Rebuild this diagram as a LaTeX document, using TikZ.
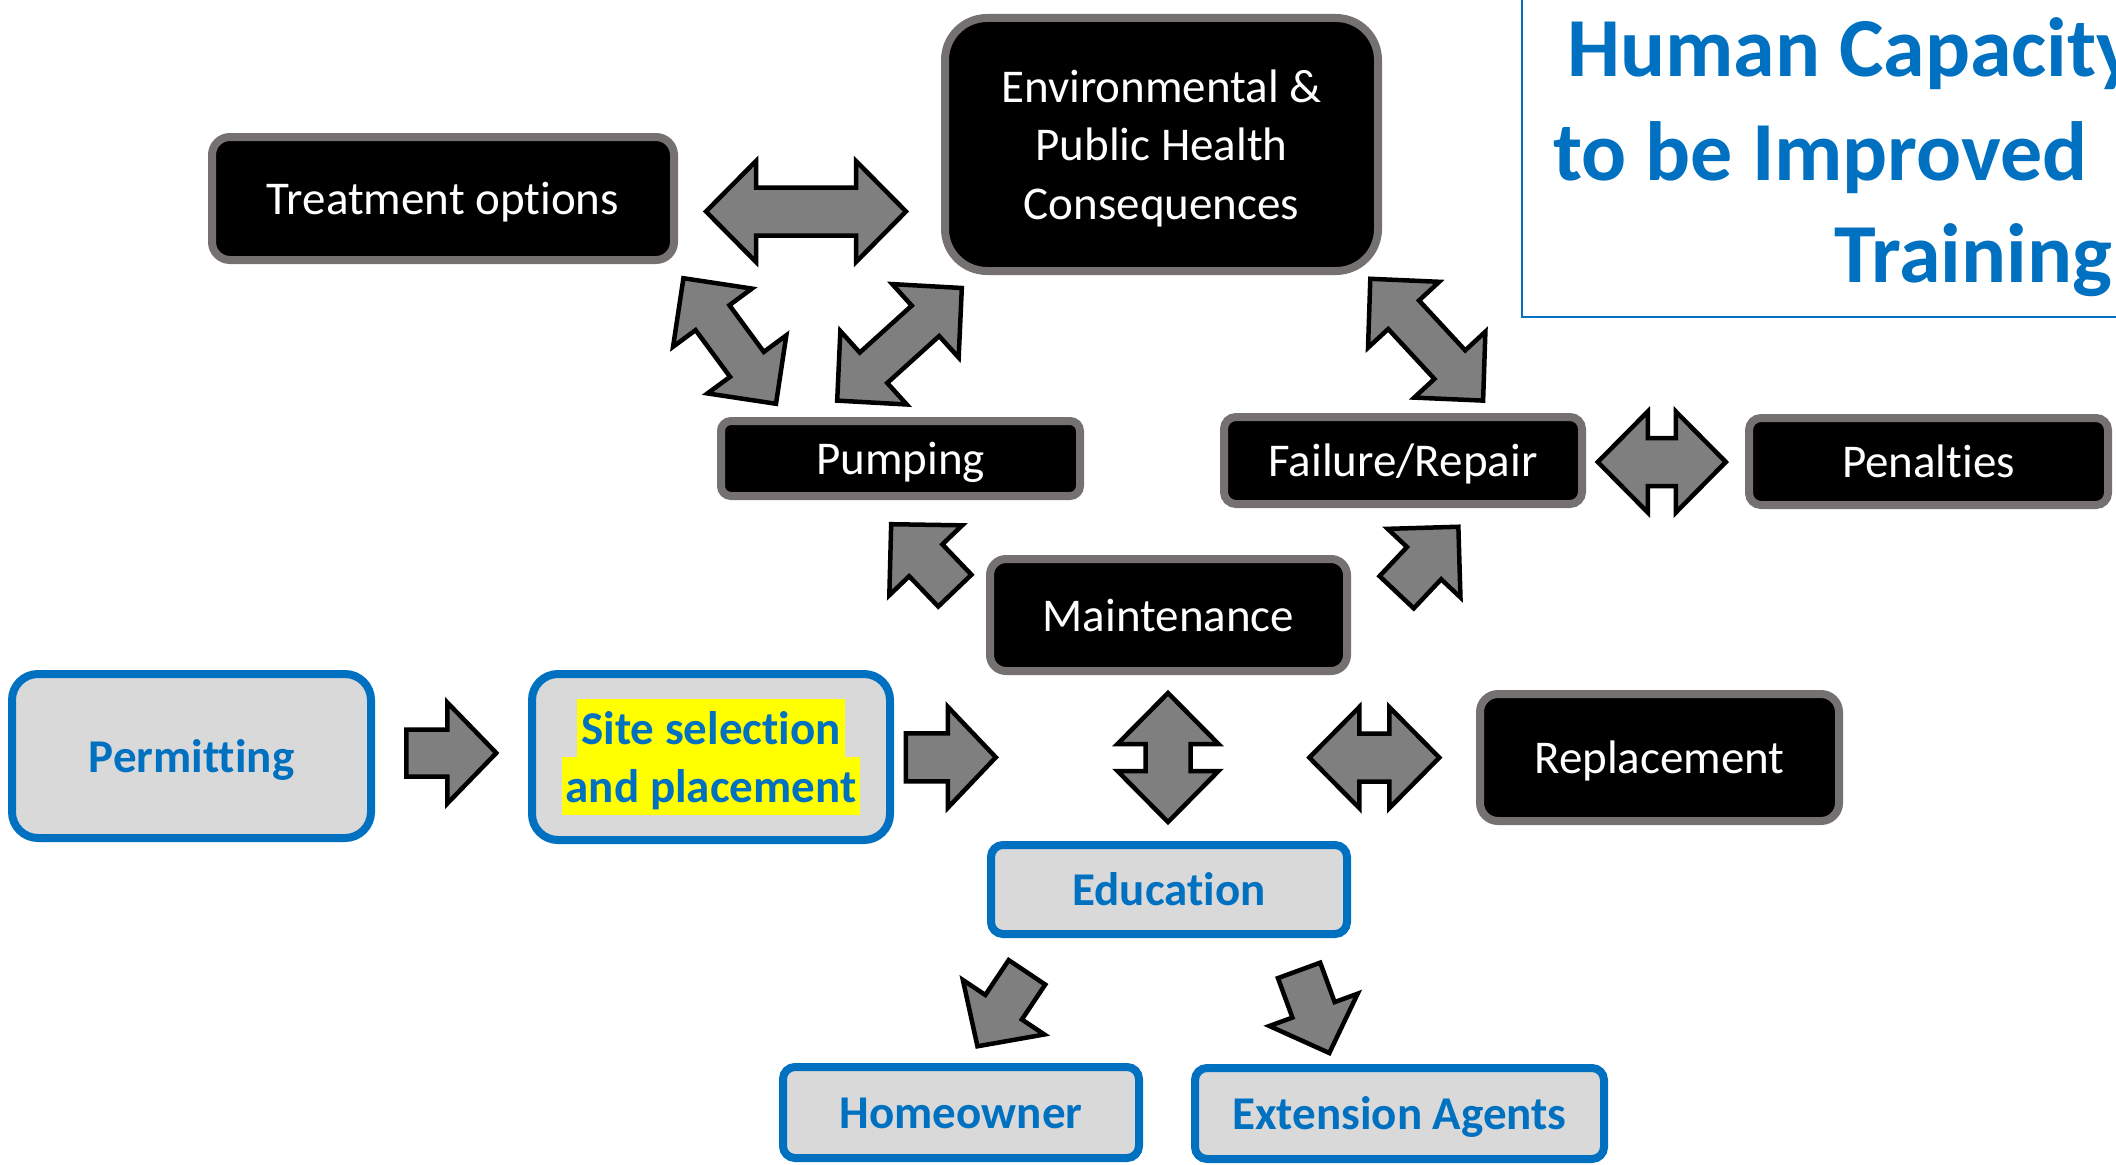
\documentclass[tikz,border=0pt]{standalone}
\usepackage{fontspec}
\setmainfont{Carlito}[Ligatures={NoCommon}]
\definecolor{bordergray}{HTML}{767171}
\definecolor{boxblue}{HTML}{0070C0}
\definecolor{boxgray}{HTML}{D9D9D9}
\definecolor{arrowgray}{HTML}{7F7F7F}
\definecolor{hlyellow}{HTML}{FFFF00}
\definecolor{titleblue}{HTML}{0070C0}
\newcommand\bs{\rule[-12pt]{0pt}{56pt}}
\newcommand\hlt[1]{{\setlength\fboxsep{0pt}\colorbox{hlyellow}{\rule[-12.5pt]{0pt}{58pt}\hspace{4pt}#1\hspace{4pt}}}}
\newcommand\dbla[7]{%
  \draw[blockarrow, shift={(#1,#2)}, rotate={-(#3)}]
    (-#4,0) -- ({-#4+#5},#6) -- ({-#4+#5},#7) -- ({#4-#5},#7) -- ({#4-#5},#6) -- (#4,0)
    -- ({#4-#5},-#6) -- ({#4-#5},-#7) -- ({-#4+#5},-#7) -- ({-#4+#5},-#6) -- cycle;}
\newcommand\sgla[7]{%
  \draw[blockarrow, shift={(#1,#2)}, rotate={-(#3)}]
    (-#4,#7) -- ({#4-#5},#7) -- ({#4-#5},#6) -- (#4,0) -- ({#4-#5},-#6) -- ({#4-#5},-#7) -- (-#4,-#7) -- cycle;}
\begin{document}
\begin{tikzpicture}[x=1pt,y=-1pt,
  boxfont/.style={font=\fontsize{47}{58.5}\selectfont},
  blackbox/.style={draw=bordergray, fill=black, line width=8pt, text=white, inner sep=0pt, align=center, boxfont},
  bluebox/.style={draw=boxblue, fill=boxgray, line width=8pt, text=boxblue, inner sep=0pt, align=center, font=\fontsize{47}{58.5}\selectfont\bfseries},
  blockarrow/.style={draw=black, fill=arrowgray, line width=4.5pt, line join=miter, miter limit=10},
  titletxt/.style={text=titleblue, inner sep=0pt, anchor=base west, font=\fontsize{84}{101}\selectfont\bfseries}]
\useasboundingbox (0,0) rectangle (2116,1164);
\fill[white] (0,0) rectangle (2116,1164);
% title box
\begin{scope}
\clip (0,0) rectangle (2116,1164);
\draw[titleblue, line width=2.5pt] (1522,-10) rectangle (2140,317);
\node[titletxt] (t1) at (1567,77) {Human Capacity};
\node[titletxt] (t2) at (1553,180) {to be Improved};
\node[titletxt] (t3) at (1834,282) {Training};
\end{scope}
% boxes
\node[blackbox, minimum width=462pt, minimum height=123pt, rounded corners=18pt] (treat) at (443,198.5) {\bs Treatment options};
\node[blackbox, minimum width=433pt, minimum height=253pt, rounded corners=42pt] (env) at (1161.5,144.5) {\bs Environmental \&\\\bs Public Health\\\bs Consequences};
\node[blackbox, minimum width=359pt, minimum height=75pt, rounded corners=10pt] (pump) at (900.5,458.5) {\bs Pumping};
\node[blackbox, minimum width=358pt, minimum height=87pt, rounded corners=12pt] (fail) at (1403,460.5) {\bs Failure/Repair};
\node[blackbox, minimum width=359pt, minimum height=87pt, rounded corners=12pt] (pen) at (1928.5,461.5) {\bs Penalties};
\node[blackbox, minimum width=357pt, minimum height=112pt, rounded corners=16pt] (maint) at (1168.5,615) {\bs Maintenance};
\node[blackbox, minimum width=359pt, minimum height=127pt, rounded corners=18pt] (repl) at (1659.5,757.5) {\bs Replacement};
\node[bluebox, minimum width=359pt, minimum height=164pt, rounded corners=26pt] (perm) at (191.5,756) {\bs Permitting};
\node[bluebox, minimum width=358pt, minimum height=166pt, rounded corners=26pt, font=\fontsize{47}{58}\selectfont\bfseries] (site) at (711,757) {\hlt{Site selection}\\\hlt{and placement}};
\node[bluebox, minimum width=356pt, minimum height=89pt, rounded corners=12pt] (edu) at (1169,889.5) {\bs Education};
\node[bluebox, minimum width=356pt, minimum height=91pt, rounded corners=12pt] (home) at (961,1112.5) {\bs Homeowner};
\node[bluebox, minimum width=409pt, minimum height=91pt, rounded corners=12pt] (ext) at (1399.5,1113.5) {\bs Extension Agents};
% double block arrows
\dbla{806}{211.5}{0}{100}{50}{50.5}{24}
\dbla{729.7}{341}{53.6}{78}{49}{49}{21}
\dbla{899.5}{344.3}{-42.1}{84}{49}{49.5}{20.5}
\dbla{1426.7}{339.7}{47.2}{83}{49}{48.5}{21}
\dbla{1661.8}{462}{0}{64}{50}{50.5}{24}
\dbla{1168}{757.5}{90}{64.5}{51}{50.5}{22.5}
\dbla{1374.3}{757.6}{0}{65}{50}{50.5}{24}
% single block arrows
\sgla{923}{557.4}{-133.8}{46}{50}{50.5}{23}
\sgla{1427.5}{559.5}{-46.7}{45}{50}{50}{23.5}
\sgla{451.3}{753}{0}{45}{49}{50.5}{23.5}
\sgla{950.8}{757.3}{0}{45}{48}{50.5}{24}
\sgla{1002.2}{1009.3}{123.8}{44.5}{47}{49}{22}
\sgla{1314.2}{1011.7}{69.9}{44}{46}{47}{22.5}
\end{tikzpicture}
\end{document}
